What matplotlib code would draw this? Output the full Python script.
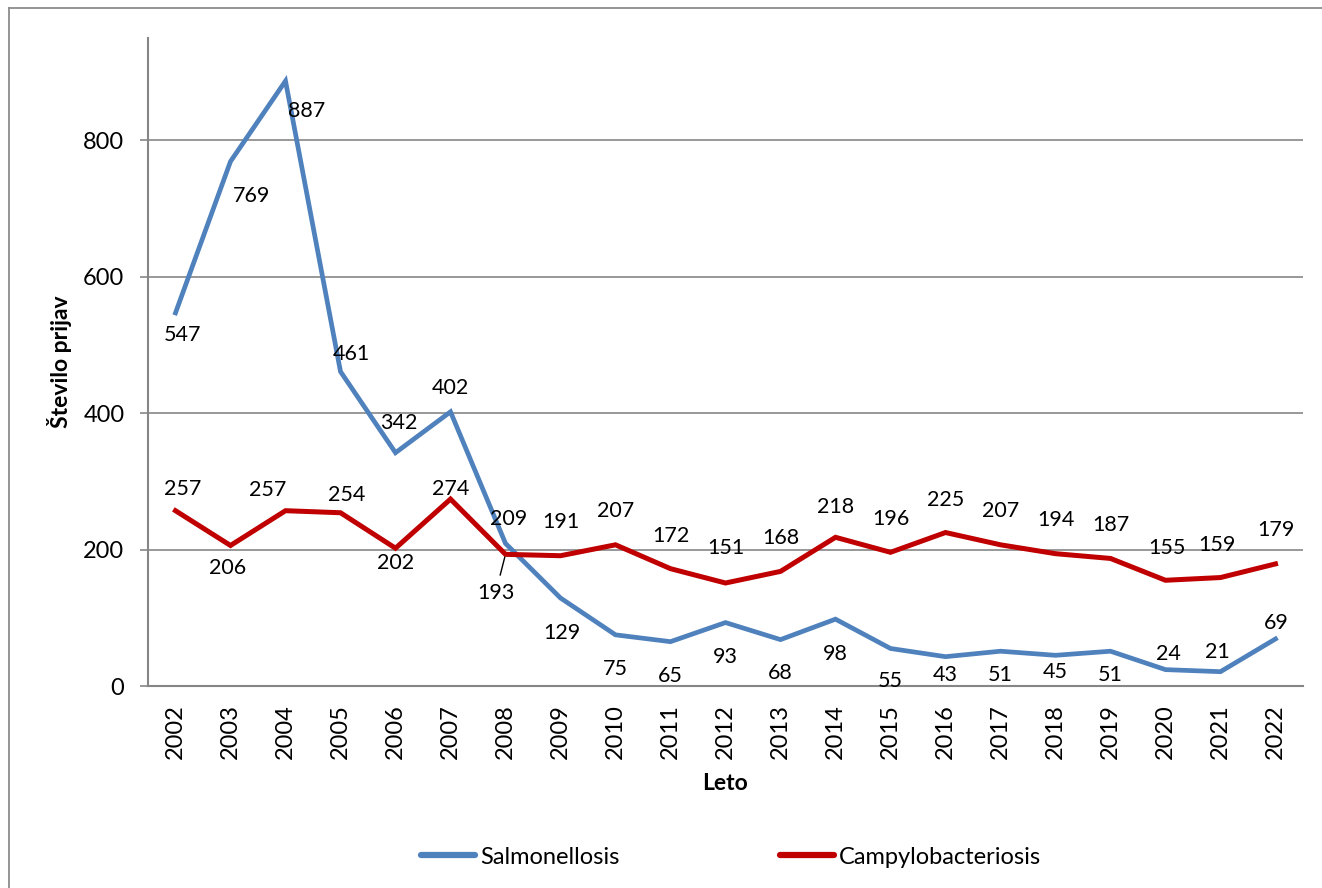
import matplotlib
matplotlib.use("Agg")
import matplotlib.pyplot as plt
from matplotlib.lines import Line2D

plt.rcParams['font.family'] = ['Lato', 'DejaVu Sans']

years = [str(y) for y in range(2002, 2023)]
salmonellosis = [547, 769, 887, 461, 342, 402, 209, 129, 75, 65, 93, 68, 98, 55, 43, 51, 45, 51, 24, 21, 69]
campylobacteriosis = [257, 206, 257, 254, 202, 274, 193, 191, 207, 172, 151, 168, 218, 196, 225, 207, 194, 187, 155, 159, 179]
y_ticks = [0, 200, 400, 600, 800]

# label offsets in pixels (dx, dy)
sal_off = [(7, -22), (21, -35), (21, -30), (11, 18), (3, 30), (0, 24), (3, 24), (1, -35), (0, -34), (0, -34),
           (0, -34), (0, -33), (0, -35), (0, -33), (0, -18), (0, -24), (0, -17), (0, -24), (3, 16), (-3, 20), (1, 16)]
cam_off = [(7, 22), (-3, -23), (-18, 21), (6, 18), (0, -15), (0, 10), (-10, -39), (0, 34), (0, 34), (0, 33),
           (0, 35), (0, 33), (0, 30), (0, 33), (0, 33), (0, 34), (0, 34), (0, 33), (1, 32), (-4, 33), (0, 34)]

W, H = 1322, 888
fig = plt.figure(figsize=(W / 100, H / 100), dpi=100)
ax = fig.add_axes([148 / W, 1 - 686 / H, (1303 - 148) / W, (686 - 38) / H])

blue = '#4F81BD'
red = '#C00000'
gray = '#868686'

x = list(range(len(years)))
l1, = ax.plot(x, salmonellosis, color=blue, lw=3.4, solid_joinstyle='miter', label='Salmonellosis', zorder=3)
l2, = ax.plot(x, campylobacteriosis, color=red, lw=3.6, solid_joinstyle='miter', label='Campylobacteriosis', zorder=3)

fs_lab = 15.5
for i, v in enumerate(salmonellosis):
    ax.annotate(str(v), (i, v), xytext=sal_off[i], textcoords='offset pixels',
                ha='center', va='center', fontsize=fs_lab, color='black', zorder=4)
for i, v in enumerate(campylobacteriosis):
    kw = {}
    if i == 6:
        kw = dict(arrowprops=dict(arrowstyle='-', color='black', lw=1.0, shrinkA=4, shrinkB=2))
    ax.annotate(str(v), (i, v), xytext=cam_off[i], textcoords='offset pixels',
                ha='center', va='center', fontsize=fs_lab, color='black', zorder=4, **kw)

ax.set_xlim(-0.5, len(years) - 0.5)
ax.set_ylim(0, 950)
ax.set_yticks(y_ticks)
ax.set_xticks(x)
ax.set_xticklabels(years, rotation=90, fontsize=17)
ax.tick_params(axis='x', length=0, pad=13)
ax.tick_params(axis='y', length=6, width=1.2, color=gray, pad=11, labelsize=17, direction='out')
ax.grid(axis='y', color=gray, lw=1.2)
ax.set_axisbelow(True)
for s in ['top', 'right']:
    ax.spines[s].set_visible(False)
for s in ['left', 'bottom']:
    ax.spines[s].set_color(gray)
    ax.spines[s].set_linewidth(1.5)

fig.text(59 / W, 1 - 362 / H, 'Število prijav', rotation=90, ha='center', va='center',
         fontsize=16.5, fontweight='bold')
fig.text(725 / W, 1 - 783 / H, 'Leto', ha='center', va='center', fontsize=16.5, fontweight='bold')

leg = fig.legend(handles=[l1, l2], loc='center', bbox_to_anchor=(731 / W, 1 - 857 / H), ncol=2,
                 frameon=False, fontsize=17, handlelength=2.3, handletextpad=0.2, columnspacing=6.8)
for h in leg.legend_handles:
    h.set_linewidth(4.5)
    h.set_solid_capstyle('round')

# border (left and top)
fig.add_artist(Line2D([8.5 / W, 8.5 / W], [0, 1 - 8 / H], color='#8c8c8c', lw=1.3, transform=fig.transFigure))
fig.add_artist(Line2D([8.5 / W, 1], [1 - 8 / H, 1 - 8 / H], color='#8c8c8c', lw=1.3, transform=fig.transFigure))

fig.savefig('out.png', dpi=100)
